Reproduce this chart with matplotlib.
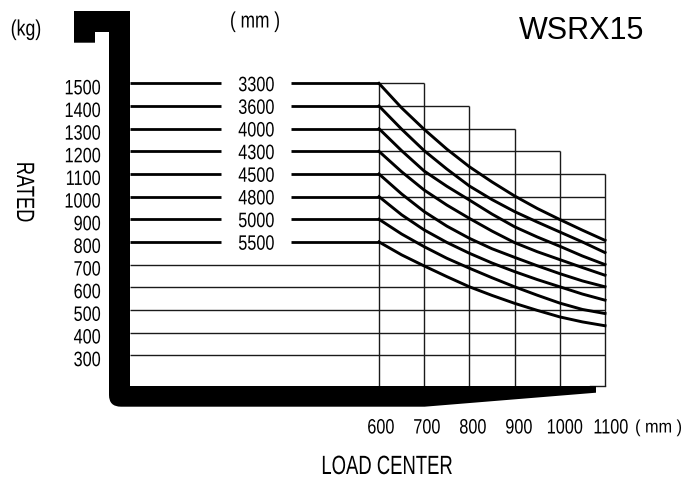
"""Rated load vs load center chart for the WSRX15."""

import matplotlib.pyplot as plt
from matplotlib.patches import PathPatch
from matplotlib.path import Path
from matplotlib.patheffects import AbstractPathEffect
from matplotlib.transforms import Affine2D

plt.rcParams["font.family"] = ["Liberation Sans", "DejaVu Sans"]

W, H = 683, 482

LOAD_CENTERS = [600, 700, 800, 900, 1000, 1100]
CURVE_X = [600, 650, 700, 750, 800, 850, 900, 950, 1000, 1050, 1100]
RATED_TICKS = [1500, 1400, 1300, 1200, 1100, 1000, 900, 800, 700, 600, 500, 400, 300]
LIFT_HEIGHTS = ["3300", "3600", "4000", "4300", "4500", "4800", "5000", "5500"]
GRID_RIGHT = [700, 800, 900, 1000, 1100, 1100, 1100, 1100, 1100, 1100, 1100, 1100, 1100]
COLUMN_TOPS = [1500, 1500, 1400, 1300, 1200, 1100]

CURVES = [
    [1500, 1392, 1297, 1210, 1132, 1065, 1003, 948, 899, 852, 807],
    [1400, 1298, 1203, 1122, 1047, 987, 934, 888, 844, 800, 753],
    [1300, 1203, 1113, 1046, 985, 923, 867, 822, 781, 738, 700],
    [1200, 1110, 1029, 963, 904, 848, 797, 757, 722, 687, 653],
    [1100, 1012, 934, 870, 816, 770, 732, 695, 660, 628, 602],
    [1000, 920, 853, 798, 750, 707, 669, 634, 602, 570, 543],
    [900, 835, 779, 728, 684, 642, 602, 565, 530, 502, 484],
    [800, 743, 694, 647, 602, 564, 529, 498, 469, 447, 430],
]

# pixel <-> data calibration
PX_600, PX_PER_X = 379.0, 0.452
PY_1500, PX_PER_Y = 83.4, 0.2265
GRID_BOTTOM = 1500 - (386 - PY_1500) / PX_PER_Y
INK = "#1a1a1a"


class Squeeze(AbstractPathEffect):
    """Condense glyphs about a display anchor, no narrow font is installed."""

    def __init__(self, anchor, factor, vertical=False):
        super().__init__()
        self.anchor, self.factor, self.vertical = anchor, factor, vertical

    def draw_path(self, renderer, gc, tpath, affine, rgbFace=None):
        if self.vertical:
            squeeze = Affine2D().translate(0, -self.anchor).scale(1, self.factor).translate(0, self.anchor)
        else:
            squeeze = Affine2D().translate(-self.anchor, 0).scale(self.factor, 1).translate(self.anchor, 0)
        renderer.draw_path(gc, tpath, affine + squeeze, rgbFace)


def to_x(px):
    return 600 + (px - PX_600) / PX_PER_X


def narrow(axes, x, y, s, factor=0.78, fontsize=15, ha="center", rotation=0):
    anchor = axes.transData.transform((x, y))
    vertical = rotation != 0
    t = axes.text(x, y, s, ha=ha, va="center", fontsize=fontsize, rotation=rotation, color="black")
    t.set_path_effects([Squeeze(anchor[1] if vertical else anchor[0], factor, vertical)])
    return t


fig = plt.figure(figsize=(W / 100, H / 100), dpi=100)
ax = fig.add_axes([0, 0, 1, 1])
ax.set_xlim(to_x(0), to_x(W))
ax.set_ylim(1500 - (H - PY_1500) / PX_PER_Y, 1500 + PY_1500 / PX_PER_Y)
ax.axis("off")

# grid
for val, right in zip(RATED_TICKS, GRID_RIGHT):
    left = 600 if val >= 800 else to_x(130)
    ax.plot([left, right], [val, val], color=INK, lw=1.0, solid_capstyle="butt")
for xv, top in zip(LOAD_CENTERS, COLUMN_TOPS):
    ax.plot([xv, xv], [GRID_BOTTOM, top], color=INK, lw=1.0, solid_capstyle="butt")
ax.plot([to_x(590), 1100], [GRID_BOTTOM, GRID_BOTTOM], color=INK, lw=1.0)

# height labels with their thick leader lines
for val, label in zip(RATED_TICKS, LIFT_HEIGHTS):
    ax.plot([to_x(130), to_x(221)], [val, val], color="black", lw=2.0, solid_capstyle="butt")
    ax.plot([to_x(291), 600], [val, val], color="black", lw=2.0, solid_capstyle="butt")
    narrow(ax, to_x(256.5), val - 10, label)

for curve in CURVES:
    ax.plot(CURVE_X, curve, color="black", lw=2.1, solid_joinstyle="round")

for val in RATED_TICKS:
    narrow(ax, to_x(101), val - 24, str(val), ha="right")

# fork outline, in pixels
px = fig.add_axes([0, 0, 1, 1], facecolor="none")
px.set_xlim(0, W)
px.set_ylim(H, 0)
px.axis("off")
verts = [
    (74, 11), (130, 11), (130, 386), (596, 386), (596, 392.7), (424.6, 406.7),
    (121, 406.7), (109, 406.7), (109, 395), (109, 32), (95, 32), (95, 42.7), (74, 42.7), (74, 11),
]
codes = [Path.MOVETO] + [Path.LINETO] * 6 + [Path.CURVE3, Path.CURVE3] + [Path.LINETO] * 4 + [Path.CLOSEPOLY]
px.add_patch(PathPatch(Path(verts, codes), facecolor="black", edgecolor="none"))

for i, xv in enumerate(LOAD_CENTERS):
    narrow(px, 381 + 46 * i, 428, str(xv))

narrow(px, 26, 30, "(kg)", factor=0.8, fontsize=16)
narrow(px, 255, 22, "( mm )", fontsize=16)
narrow(px, 682, 428, "( mm )", factor=0.9, fontsize=13, ha="right")
px.text(582, 31, "WSRX15", ha="center", va="center", fontsize=22)
narrow(px, 24, 192, "RATED", factor=0.73, fontsize=18, rotation=270)
narrow(px, 387, 467, "LOAD CENTER", factor=0.70, fontsize=19)

fig.savefig("out.png", dpi=100)
